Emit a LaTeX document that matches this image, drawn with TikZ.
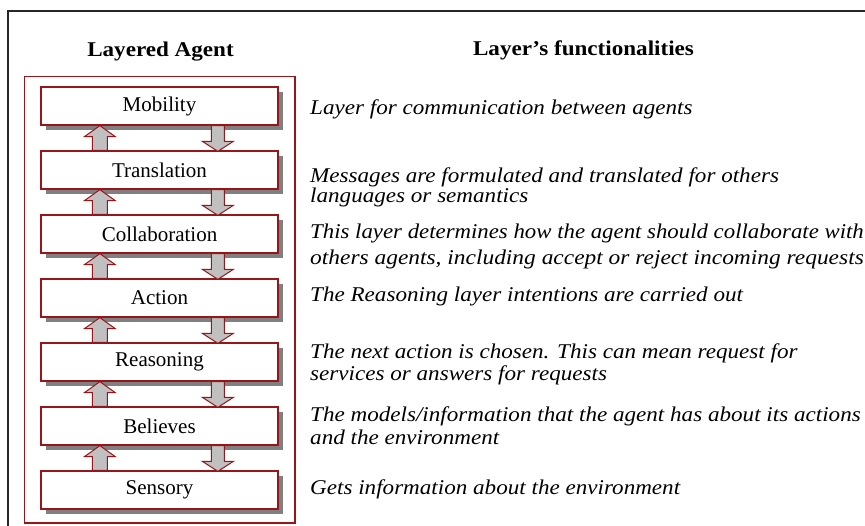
\documentclass[tikz,border=0pt]{standalone}
\usepackage{fontspec}
\setmainfont{Liberation Serif}
\usetikzlibrary{shadows,calc}
\definecolor{boxred}{RGB}{152,22,26}
\definecolor{arrowgray}{RGB}{192,192,192}
\definecolor{shadowgray}{RGB}{128,128,128}
\newcommand{\wide}[2][1.1]{\scalebox{#1}[1]{#2}}
\tikzset{
  layerbox/.style={draw=boxred, fill=white, line width=1.3pt,
    minimum width=237pt, minimum height=38pt, inner sep=0pt,
    font=\fontsize{21}{25}\selectfont,
    drop shadow={shadow xshift=4.5pt, shadow yshift=-4.5pt, fill=shadowgray, opacity=1}},
  blockarrow/.style={draw=boxred, fill=arrowgray, line width=1pt, line join=miter},
  title/.style={anchor=base, inner sep=0pt, font=\bfseries\fontsize{21}{25}\selectfont},
  desc/.style={anchor=base west, inner sep=0pt, align=left, font=\itshape\fontsize{21}{25}\selectfont}
}
\begin{document}
\begin{tikzpicture}[x=1pt,y=-1pt]
\useasboundingbox (0,0) rectangle (865,525);
\clip (0,0) rectangle (865,525);
\fill[white] (0,0) rectangle (865,525);
% outer frame
\draw[line width=1.3pt, black!85] (8,11) rectangle (880,545);
% container
\draw[boxred, line width=1.3pt] (24.5,76.5) rectangle (295,523);
% titles
\node[title] (tleft) at (160.5,56) {\wide{Layered Agent}};
\node[title] (tright) at (583.5,55) {\wide{Layer’s functionalities}};
% layers
\node[layerbox] (m)  at (159.5,106) {Mobility};
\node[layerbox] (t)  at (159.5,170) {Translation};
\node[layerbox] (c)  at (159.5,234) {Collaboration};
\node[layerbox] (ac) at (159.5,298) {Action};
\node[layerbox] (r)  at (159.5,362) {Reasoning};
\node[layerbox] (be) at (159.5,426) {Believes};
\node[layerbox] (s)  at (159.5,490) {Sensory};
% arrows
\foreach \a/\b in {m/t, t/c, c/ac, ac/r, r/be, be/s} {
  \draw[blockarrow] ([xshift=52pt]\b.north west) -- ([xshift=52pt,yshift=-11pt]\a.south west)
    -- ([xshift=44pt,yshift=-11pt]\a.south west) -- ([xshift=59.5pt]\a.south west)
    -- ([xshift=75pt,yshift=-11pt]\a.south west) -- ([xshift=67pt,yshift=-11pt]\a.south west)
    -- ([xshift=67pt]\b.north west) -- cycle;
  \draw[blockarrow] ([xshift=171pt]\a.south west) -- ([xshift=171pt,yshift=9pt]\b.north west)
    -- ([xshift=162pt,yshift=9pt]\b.north west) -- ([xshift=177.5pt,yshift=-1pt]\b.north west)
    -- ([xshift=193pt,yshift=9pt]\b.north west) -- ([xshift=184pt,yshift=9pt]\b.north west)
    -- ([xshift=184pt]\a.south west) -- cycle;
}
% descriptions
\node[desc] (d1) at (310,114) {\wide{Layer for communication between agents}};
\node[desc] (d2) at (310,202) {\wide{Messages are formulated and translated for others}\\[-5pt]\wide{languages or semantics}};
\node[desc] (d3) at (310,264) {\wide[1.086]{This layer determines how the agent should collaborate with}\\[1pt]\wide[1.115]{others agents, including accept or reject incoming requests}};
\node[desc] (d4) at (310,301) {\wide{The Reasoning layer intentions are carried out}};
\node[desc] (d5) at (310,380) {\wide{The next action is chosen. This can mean request for}\\[-3pt]\wide{services or answers for requests}};
\node[desc] (d6) at (310,444) {\wide{The models/information that the agent has about its actions}\\[-2pt]\wide{and the environment}};
\node[desc] (d7) at (310,494) {\wide{Gets information about the environment}};
\end{tikzpicture}
\end{document}
